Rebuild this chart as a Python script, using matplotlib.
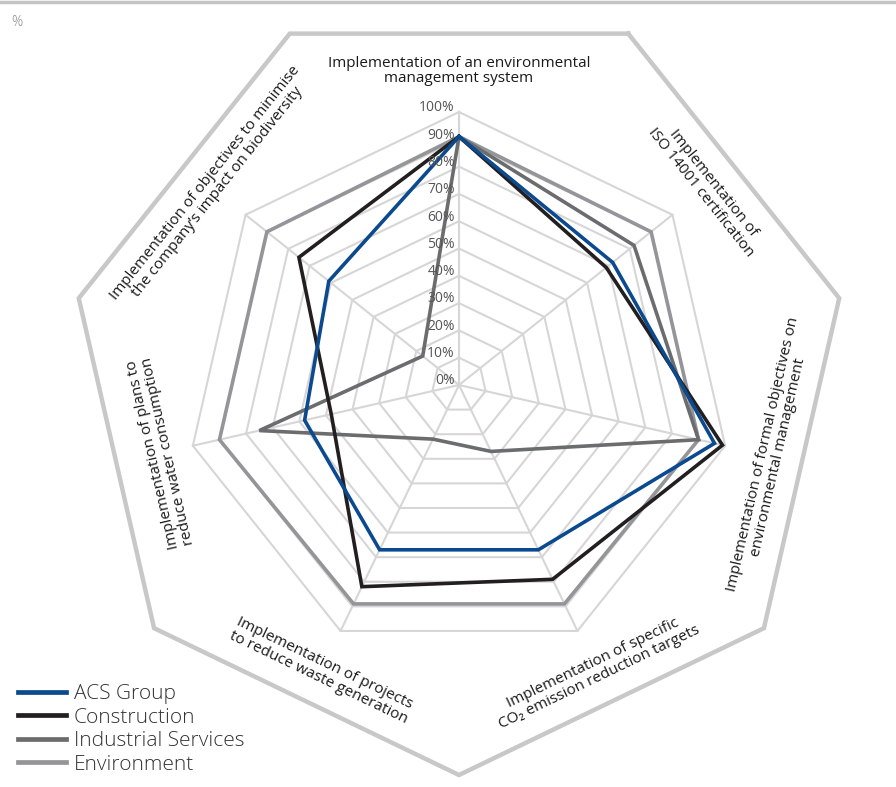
import numpy as np
import matplotlib
matplotlib.use("Agg")
import matplotlib.pyplot as plt
from matplotlib.lines import Line2D

plt.rcParams["font.family"] = ["Open Sans", "DejaVu Sans"]

categories = [
    "Implementation of an environmental\nmanagement system",
    "Implementation of\nISO 14001 certification",
    "Implementation of formal objectives on\nenvironmental management",
    "Implementation of specific\nCO\u2082 emission reduction targets",
    "Implementation of projects\nto reduce waste generation",
    "Implementation of plans to\nreduce water consumption",
    "Implementation of objectives to minimise\nthe company\u2019s impact on biodiversity",
]
ticks = [0, 10, 20, 30, 40, 50, 60, 70, 80, 90, 100]
series_names = ["ACS Group", "Construction", "Industrial Services", "Environment"]
acs = [91, 72, 96, 67, 67, 58, 61]
construction = [91, 69, 99, 79, 82, 48, 75]
industrial = [91, 82, 90, 27, 22, 75, 17]
environment = [91, 90, 90, 89, 89, 90, 90]

colors = {"ACS Group": "#0b4a8f", "Construction": "#231f20",
          "Industrial Services": "#6b6c6e", "Environment": "#939598"}

N = len(categories)
theta = np.arange(N) * 2 * np.pi / N
theta_c = np.append(theta, theta[0])

W, H = 896, 787
fig = plt.figure(figsize=(W / 100, H / 100), dpi=100)
cxp, cyp = 459, 385
r100 = 273.0
rmax = 145
half_w = rmax / 100 * r100 / W
half_h = rmax / 100 * r100 / H
cx, cy = cxp / W, 1 - cyp / H
ax = fig.add_axes([cx - half_w, cy - half_h, 2 * half_w, 2 * half_h], projection="polar")
ax.set_theta_zero_location("N")
ax.set_theta_direction(-1)
ax.set_ylim(0, rmax)
ax.axis("off")

grid_col = "#d6d6d6"
for t in ticks[1:]:
    ax.plot(theta_c, [t] * (N + 1), color=grid_col, lw=1.5, zorder=1, clip_on=False)
for th in theta:
    ax.plot([th, th], [0, 100], color=grid_col, lw=1.5, zorder=1, clip_on=False)

# outer frame heptagon (rotated half a step)
outer_r = 142.86
ax.plot(theta_c + np.pi / N, [outer_r] * (N + 1), color="#c8c8c8", lw=3.2,
        zorder=1, clip_on=False, solid_joinstyle="miter")

data = {"ACS Group": acs, "Construction": construction,
        "Industrial Services": industrial, "Environment": environment}
handles = {}
for name in ["Environment", "Industrial Services", "Construction", "ACS Group"]:
    vals = data[name]
    ln, = ax.plot(theta_c, vals + [vals[0]], color=colors[name], lw=2.6,
                  zorder=3, solid_joinstyle="miter", clip_on=False)
    handles[name] = ln

for t in ticks:
    ax.annotate(f"{t}%", xy=(0, t), xytext=(-3, 3), textcoords="offset points",
                ha="right", va="center", fontsize=10, color="#555555", zorder=4)

rots = [0, -51.43, 77.14, 25.71, -25.71, 102.86, 51.43]
lab_r = [115, 116, 117, 116, 116, 112, 116]
for th, lab, rot, rr in zip(theta, categories, rots, lab_r):
    ax.text(th, rr, lab, rotation=rot, rotation_mode="anchor", ha="center",
            va="center", multialignment="center", fontsize=11, color="#1a1a1a",
            linespacing=1.05)

leg = fig.legend([handles[n] for n in series_names], series_names,
                 loc="upper left", bbox_to_anchor=(18 / W, 1 - 684 / H),
                 bbox_transform=fig.transFigure, frameon=False,
                 handlelength=2.3, handletextpad=0.38, labelspacing=0.17,
                 borderpad=0, borderaxespad=0,
                 prop={"size": 15, "weight": "light"})
for txt in leg.get_texts():
    txt.set_color("#333333")
for lh in leg.get_lines():
    lh.set_linewidth(3.4)

fig.add_artist(Line2D([0, 1], [1 - 1.5 / H] * 2, transform=fig.transFigure,
                      color="#c4c4c4", lw=2.5))
fig.text(17 / W, 1 - 22 / H, "%", fontsize=10, color="#888888", ha="center", va="center",
         fontweight="light")

fig.savefig("out.png", dpi=100)
